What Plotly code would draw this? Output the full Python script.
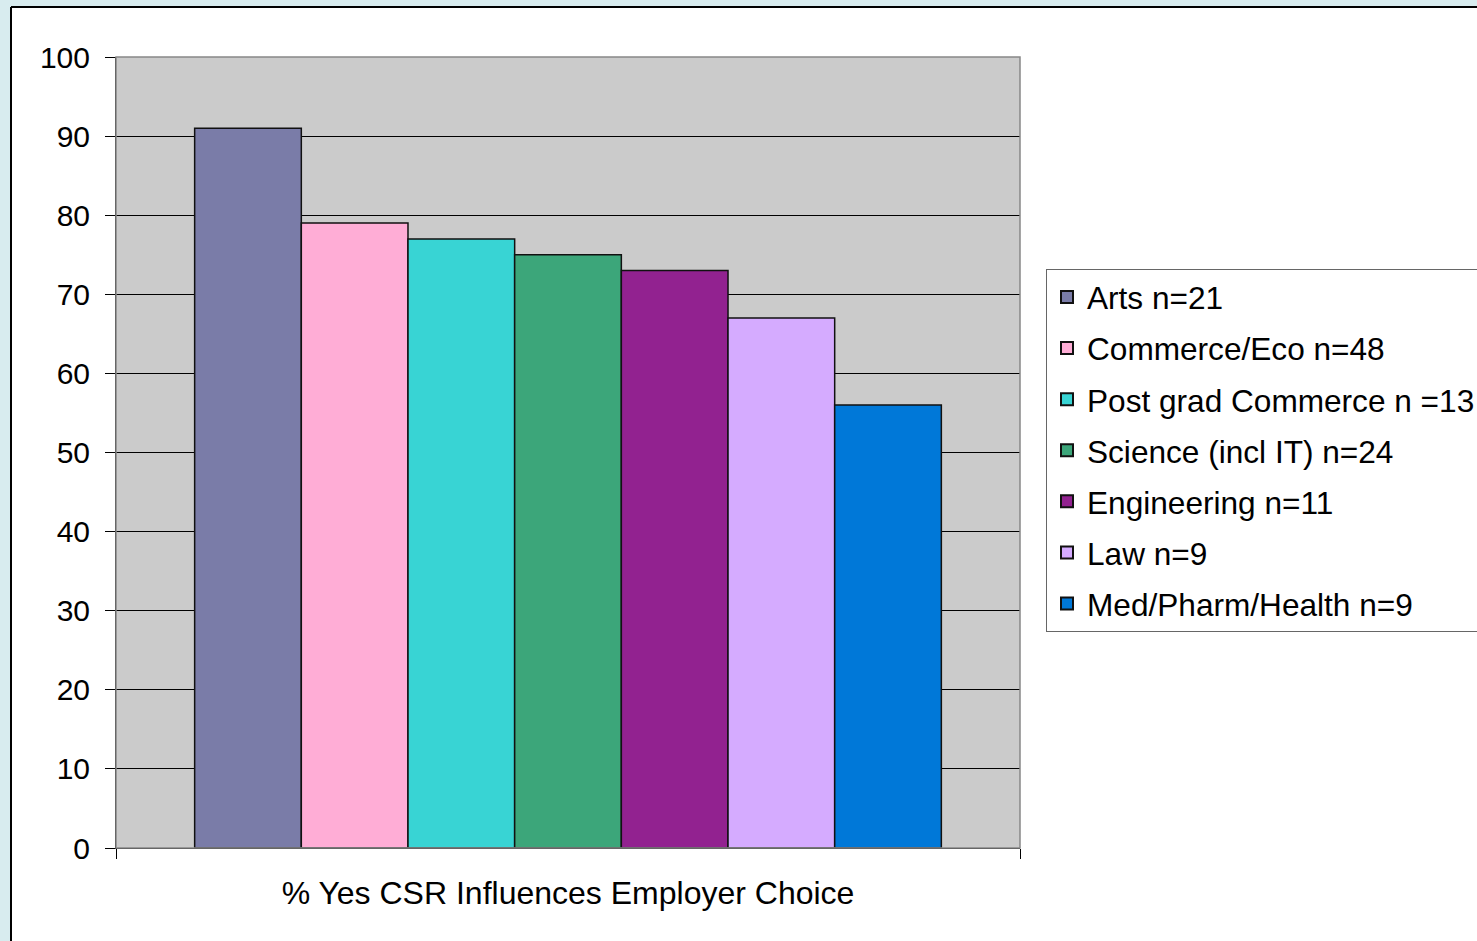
import plotly.graph_objects as go

# Survey result: share answering "yes" by faculty
category = "% Yes CSR Influences Employer Choice"
groups = [
    "Arts n=21",
    "Commerce/Eco n=48",
    "Post grad Commerce n =13",
    "Science (incl IT) n=24",
    "Engineering n=11",
    "Law n=9",
    "Med/Pharm/Health n=9",
]
pct_yes = [91, 79, 77, 75, 73, 67, 56]
colors = ["#7A7CA8", "#FFADD6", "#38D4D4", "#3CA67A", "#922290", "#D5ABFF", "#0078D8"]
y_ticks = list(range(0, 101, 10))

W, H = 1477, 941
L, R, T, B = 116, 1020, 57, 848  # plot area in pixels

def px_x(p):
    return (p - L) / (R - L)

def px_y(p):
    return (B - p) / (B - T)

FONT = "Liberation Sans, Arial, sans-serif"
EDGE = "#D8ECEF"

fig = go.Figure()
for i, (name, val, col) in enumerate(zip(groups, pct_yes, colors)):
    fig.add_trace(go.Bar(
        x=[category], y=[val], name=name,
        marker=dict(color=col, line=dict(color="#111111", width=1.5)),
        legendgroup=f"g{i}",
    ))

fig.update_layout(
    width=W, height=H,
    margin=dict(l=L, r=W - R, t=T, b=H - B, pad=0, autoexpand=False),
    paper_bgcolor="#FFFFFF",
    plot_bgcolor="#CBCBCB",
    barmode="group",
    bargap=0.174,
    bargroupgap=0,
    font=dict(family=FONT, size=30, color="#000000"),
    showlegend=True,
    legend=dict(
        x=px_x(1046), y=px_y(269), xanchor="left", yanchor="top",
        bgcolor="#FFFFFF", bordercolor="#666666", borderwidth=1,
        font=dict(family=FONT, size=31.6, color="#000000"),
        tracegroupgap=7, traceorder="grouped",
        itemsizing="constant",
    ),
    xaxis=dict(
        type="category",
        showline=True, linecolor="#000000", linewidth=1,
        ticks="outside", tickson="boundaries", ticklen=10, tickcolor="#000000",
        showgrid=False, zeroline=False,
        tickfont=dict(family=FONT, size=32),
        ticklabelstandoff=17,
        fixedrange=True,
    ),
    yaxis=dict(
        range=[0, 100], tickvals=y_ticks,
        showline=True, linecolor="#000000", linewidth=1,
        ticks="outside", ticklen=10, tickcolor="#000000",
        showgrid=True, gridcolor="#000000", gridwidth=1,
        zeroline=False,
        tickfont=dict(family=FONT, size=30),
        ticklabelstandoff=9,
        fixedrange=True,
    ),
    shapes=[
        # light page edge above and left of the chart area
        dict(type="rect", xref="paper", yref="paper", layer="below",
             x0=px_x(-5), x1=px_x(W + 5), y0=px_y(7), y1=px_y(-5),
             fillcolor=EDGE, line=dict(width=0)),
        dict(type="rect", xref="paper", yref="paper", layer="below",
             x0=px_x(-5), x1=px_x(11), y0=px_y(H + 5), y1=px_y(-5),
             fillcolor=EDGE, line=dict(width=0)),
        # black frame lines of the chart area
        dict(type="line", xref="paper", yref="paper", layer="below",
             x0=px_x(11), x1=px_x(W + 5), y0=px_y(7), y1=px_y(7),
             line=dict(color="#000000", width=2)),
        dict(type="line", xref="paper", yref="paper", layer="below",
             x0=px_x(11), x1=px_x(11), y0=px_y(7), y1=px_y(H + 5),
             line=dict(color="#000000", width=2)),
        # grey frame of plot area
        dict(type="rect", xref="paper", yref="paper", layer="above",
             x0=0, x1=1, y0=0, y1=1,
             line=dict(color="#888888", width=1.5), fillcolor="rgba(0,0,0,0)"),
    ],
)

fig.write_html("out.html")
